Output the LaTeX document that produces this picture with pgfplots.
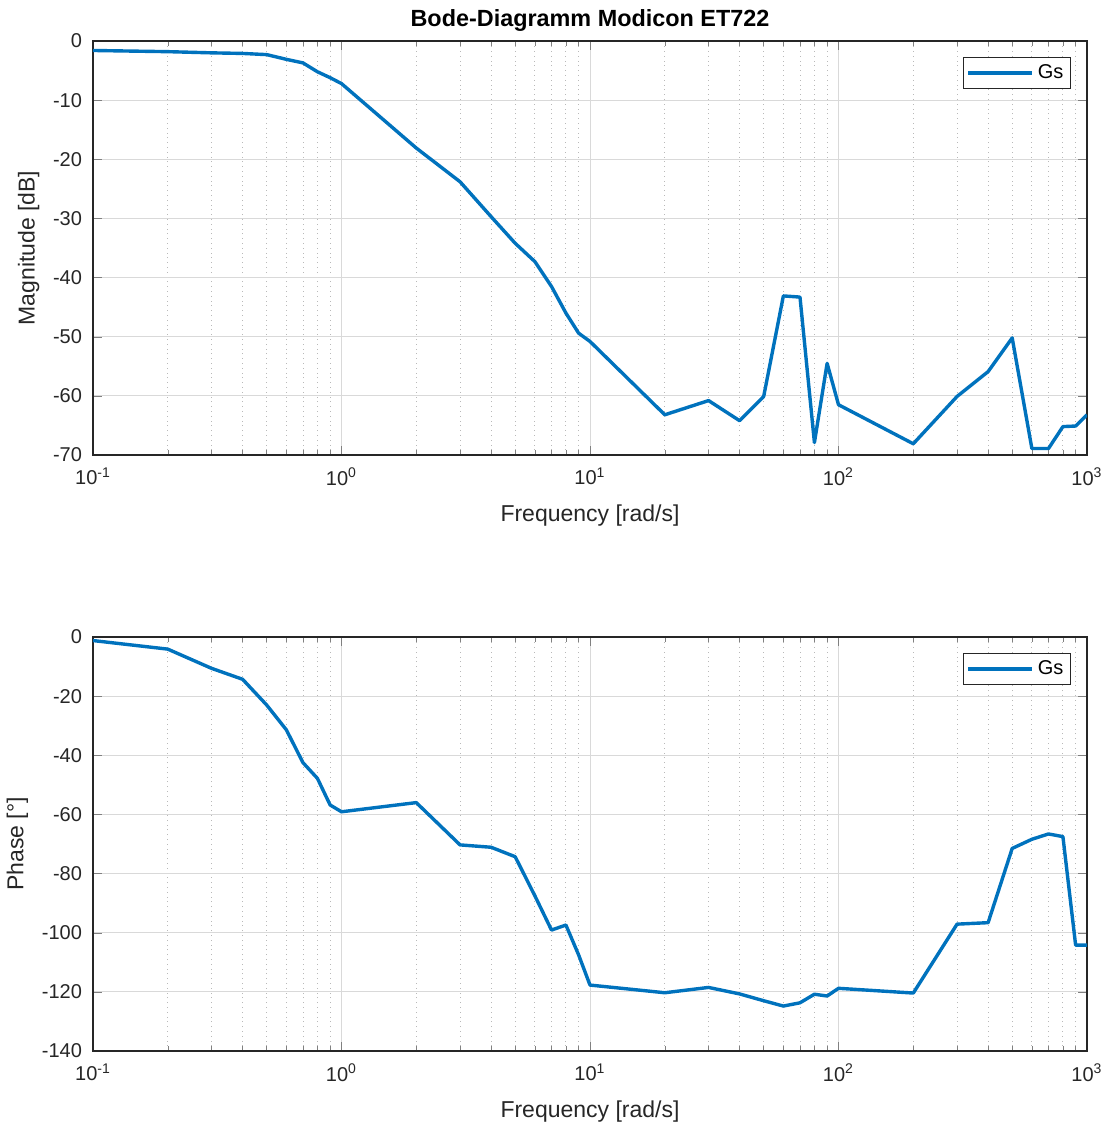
\documentclass[border=0pt]{standalone}
\usepackage{fontspec}
\setmainfont{Liberation Sans}
\usepackage{pgfplots}
\pgfplotsset{compat=1.18}

\definecolor{mblue}{RGB}{0,114,189}
\definecolor{axgray}{RGB}{38,38,38}

\pgfplotsset{
    every axis/.append style={
        scale only axis,
        width=497pt,
        height=207pt,
        tick align=inside,
        major tick length=4.5pt,
        minor tick length=2.5pt,
        axis line style={axgray, line width=0.6pt},
        xmajorgrids, ymajorgrids, xminorgrids,
        major grid style={gray!30, line width=0.5pt},
        minor grid style={gray!55, dotted, line width=0.5pt},
        tick label style={font=\fontsize{10}{12}\selectfont, text=axgray},
        xticklabel style={yshift=-3pt},
        yticklabel style={xshift=-2pt},
        label style={font=\fontsize{11.5}{13}\selectfont, text=axgray},
        /pgf/number format/assume math mode=true,
        xlabel style={yshift=-3pt},
        legend cell align=right,
        legend style={
            at={(1,1)}, anchor=north east, xshift=-8pt, yshift=-8pt,
            draw=axgray, line width=0.6pt,
            font=\fontsize{10}{12}\selectfont,
            inner sep=1.5pt,
        },
    },
    legend image code/.code={\draw[#1] (0pt,0pt) -- (32pt,0pt);},
}

\begin{document}
\begin{tikzpicture}
\path[use as bounding box] (-46.5pt,-334.5pt) rectangle (509.5pt,227.5pt);

% Magnitude
\begin{semilogxaxis}[
    at={(0,0)}, anchor=south west,
    xmin=0.1, xmax=1000,
    xtick={0.1,1,10,100,1000},
    xticklabels={10\textsuperscript{-1},10\textsuperscript{0},10\textsuperscript{1},10\textsuperscript{2},10\textsuperscript{3}},
    ymin=-70, ymax=0,
    ytick={-70,-60,...,0},
    xlabel={Frequency [rad/s]},
    ylabel={Magnitude [dB]},
    title={Bode-Diagramm Modicon ET722},
    title style={font=\bfseries\fontsize{11.7}{13}\selectfont, yshift=-5pt},
]
\addplot[mblue, line width=1.7pt, line join=round] coordinates {
    (0.1,-1.6) (0.2,-1.8) (0.3,-2.0) (0.4,-2.1) (0.5,-2.3) (0.6,-3.1)
    (0.7,-3.7) (0.8,-5.2) (0.9,-6.2) (1,-7.2)
    (2,-18.1) (3,-23.8) (4,-29.7) (5,-34.2) (6,-37.3) (7,-41.5)
    (8,-46.0) (9,-49.4) (10,-50.8)
    (20,-63.2) (30,-60.8) (40,-64.2) (50,-60.1) (60,-43.1) (70,-43.3)
    (80,-67.9) (90,-54.5) (100,-61.5)
    (200,-68.1) (300,-60.1) (400,-55.9) (500,-50.2) (600,-68.9)
    (700,-68.9) (800,-65.2) (900,-65.1) (1000,-63.2)
};
\addlegendentry{Gs}
\end{semilogxaxis}

% Phase
\begin{semilogxaxis}[
    at={(0,-298pt)}, anchor=south west,
    xmin=0.1, xmax=1000,
    xtick={0.1,1,10,100,1000},
    xticklabels={10\textsuperscript{-1},10\textsuperscript{0},10\textsuperscript{1},10\textsuperscript{2},10\textsuperscript{3}},
    ymin=-140, ymax=0,
    ytick={-140,-120,...,0},
    xlabel={Frequency [rad/s]},
    ylabel={Phase [°]},
]
\addplot[mblue, line width=1.7pt, line join=round] coordinates {
    (0.1,-1.2) (0.2,-4.1) (0.3,-10.6) (0.4,-14.3) (0.5,-23.0) (0.6,-31.4)
    (0.7,-42.5) (0.8,-47.8) (0.9,-56.8) (1,-59.1)
    (2,-56.0) (3,-70.3) (4,-71.1) (5,-74.3) (6,-87.5) (7,-99.1)
    (8,-97.4) (9,-107.5) (10,-117.7)
    (20,-120.3) (30,-118.5) (40,-120.7) (50,-123.0) (60,-124.8)
    (70,-123.7) (80,-120.8) (90,-121.4) (100,-118.8)
    (200,-120.4) (300,-97.1) (400,-96.6) (500,-71.5) (600,-68.4)
    (700,-66.6) (800,-67.5) (900,-104.2) (1000,-104.2)
};
\addlegendentry{Gs}
\end{semilogxaxis}
\end{tikzpicture}
\end{document}
